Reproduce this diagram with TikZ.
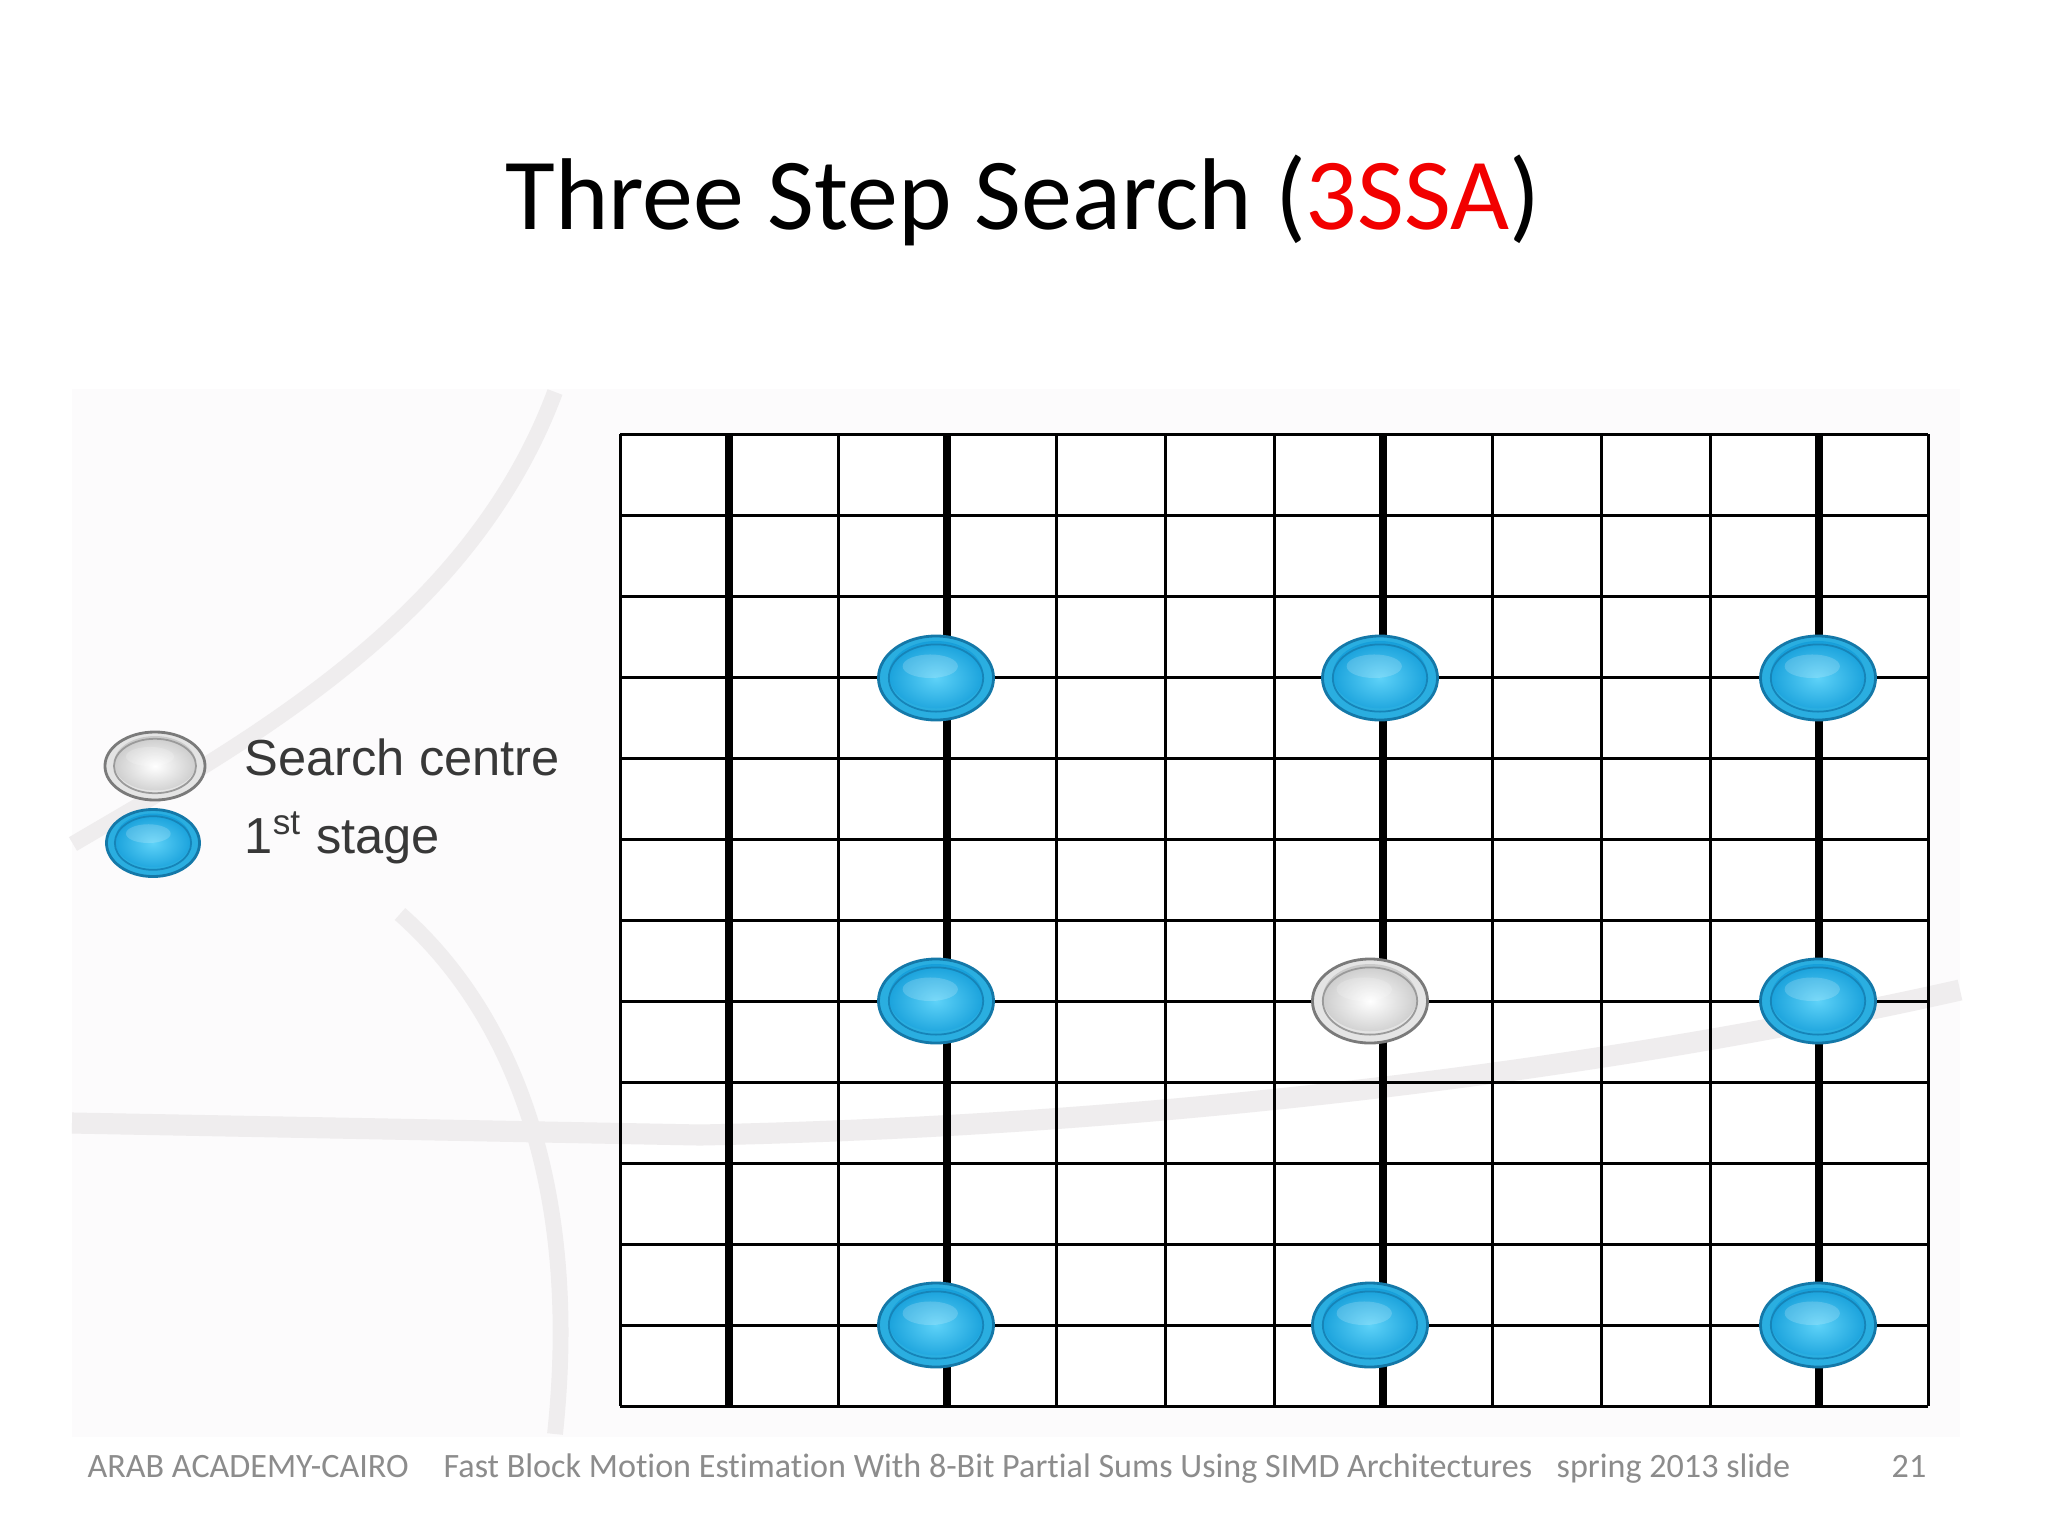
\documentclass[tikz,border=0pt]{standalone}
\usepackage{fontspec}
\setmainfont{Carlito}[Ligatures={NoCommon}]
\newfontfamily\legfont{Liberation Sans}
\usetikzlibrary{shapes.geometric}
\definecolor{imgbg}{HTML}{FCFBFC}
\definecolor{deco}{HTML}{EFEDEE}
\definecolor{foot}{HTML}{8C8C8C}
\definecolor{legtext}{HTML}{383838}
\definecolor{titlered}{HTML}{F20000}
\definecolor{bluedark}{HTML}{1478A8}
\definecolor{bluering}{HTML}{2AAEE0}
\definecolor{bluehi}{HTML}{5ED2F8}
\definecolor{bluebody}{HTML}{0C98D6}
\definecolor{blueedge}{HTML}{1684B8}
\definecolor{graydark}{HTML}{7A7A7A}
\definecolor{grayring}{HTML}{E4E4E4}
\definecolor{grayhi}{HTML}{FFFFFF}
\definecolor{graybody}{HTML}{C2C2C2}
\definecolor{grayedge}{HTML}{9A9A9A}
\tikzset{
  ball/.style n args={3}{ellipse, inner sep=0pt, minimum width=#1cm, minimum height=#2cm,
    draw=#3dark, line width=0.8pt, fill=#3ring,
    path picture={
      \shade[inner color=#3hi, outer color=#3body] ([yshift=#2*0.04cm]path picture bounding box.center)
        ellipse [x radius=#1*0.41cm, y radius=#2*0.40cm];
      \draw[#3edge, line width=0.5pt] (path picture bounding box.center)
        ellipse [x radius=#1*0.41cm, y radius=#2*0.40cm];
      \fill[white, opacity=0.18] ([xshift=-#1*0.05cm, yshift=#2*0.14cm]path picture bounding box.center)
        ellipse [x radius=#1*0.24cm, y radius=#2*0.14cm];
    }},
  gridball/.style={ball={1.15}{0.84}{#1}},
  thinline/.style={line width=0.85pt, black},
  thickline/.style={line width=2.1pt, black},
  decoline/.style={deco, line width=4.5pt},
  legend/.style={anchor=base west, text=legtext, font=\legfont\fontsize{14.4}{17}\selectfont, inner sep=0pt},
  footer/.style={anchor=base west, text=foot, font=\fontsize{9.7}{11}\selectfont, inner sep=0pt},
}
\begin{document}
\begin{tikzpicture}[x=0.01cm,y=-0.01cm]
\useasboundingbox (0,0) rectangle (2048,1536);
\fill[white] (0,0) rectangle (2048,1536);
% pasted picture background
\fill[imgbg] (72,389) rectangle (1960,1437);
% decorative arcs
\draw[decoline] (555,392) .. controls (470,620) and (250,740) .. (73,844);
\draw[decoline] (400,914) .. controls (520,1020) and (580,1200) .. (555,1434);
% grid background
\fill[white] (620,434) rectangle (1928,1406);
% decorative band
\draw[deco, line width=6pt] (72,1123) -- (700,1135) .. controls (1200,1125) and (1650,1060) .. (1960,990);
% grid
\foreach \j in {0,...,12} {
  \draw[thinline] (620,434+81*\j) -- (1928,434+81*\j);
}
\foreach \i in {0,2,4,5,6,8,9,10,12} {
  \draw[thinline] (620+109*\i,434) -- (620+109*\i,1406);
}
\foreach \i in {1,3,7,11} {
  \draw[thickline] (620+109*\i,434) -- (620+109*\i,1406);
}
% search points
\node[gridball=blue] (b1) at (936,678) {};
\node[gridball=blue] (b2) at (1380,678) {};
\node[gridball=blue] (b3) at (1818,678) {};
\node[gridball=blue] (b4) at (936,1001) {};
\node[gridball=gray] (c0) at (1370,1001) {};
\node[gridball=blue] (b5) at (1818,1001) {};
\node[gridball=blue] (b6) at (936,1325) {};
\node[gridball=blue] (b7) at (1370,1325) {};
\node[gridball=blue] (b8) at (1818,1325) {};
% legend
\node[ball={1.0}{0.68}{gray}] (lc) at (155,766) {};
\node[ball={0.93}{0.67}{blue}] (lb) at (153,843) {};
\node[legend] (lct) at (244,775) {Search centre};
\node[legend] (lbt) at (244,853) {1\textsuperscript{st} stage};
% title
\node[anchor=base, inner sep=0pt, font=\fontsize{29}{35}\selectfont] (title) at (1023,229)
  {Three Step Search (\textcolor{titlered}{3SSA})};
% footer
\node[footer] (f1) at (87,1477) {ARAB ACADEMY-CAIRO};
\node[footer] (f2) at (443,1477) {Fast Block Motion Estimation With 8-Bit Partial Sums Using SIMD Architectures};
\node[footer] (f3) at (1556,1477) {spring 2013 slide};
\node[footer] (f4) at (1891,1477) {21};
\end{tikzpicture}
\end{document}
